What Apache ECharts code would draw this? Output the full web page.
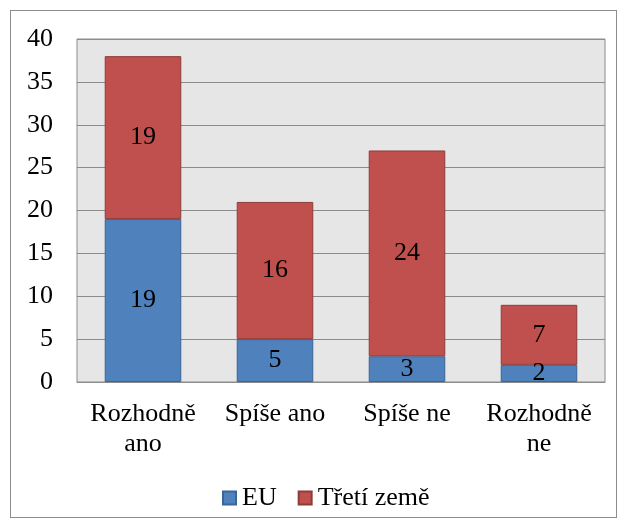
<!DOCTYPE html>
<html>
<head>
<meta charset="utf-8">
<script src="https://cdn.jsdelivr.net/npm/echarts@6/dist/echarts.min.js"></script>
<style>
  html, body { margin: 0; padding: 0; background: #fff; }
  #frame { position: absolute; left: 10px; top: 10px; width: 607px; height: 508px; border: 1px solid #8c8c8c; box-sizing: border-box; }
  #chart { position: absolute; left: 0; top: 0; width: 626px; height: 528px; }
</style>
</head>
<body>
<div id="frame"></div>
<div id="chart"></div>
<script>
const categories = ['Rozhodně\nano', 'Spíše ano', 'Spíše ne', 'Rozhodně\nne'];
const euValues = [19, 5, 3, 2];
const thirdValues = [19, 16, 24, 7];
const seriesNames = ['EU', 'Třetí země'];

const font = '"Times New Roman", "Liberation Serif", Tinos, "DejaVu Serif", serif';
const fontSize = 26;
const chart = echarts.init(document.getElementById('chart'), null, { renderer: 'canvas' });

function barSeries(name, data, color, border) {
  return {
    name: name,
    type: 'bar',
    stack: 'total',
    data: data,
    barCategoryGap: '42%',
    itemStyle: { color: color, borderColor: border, borderWidth: 1 },
    label: {
      show: true,
      position: 'inside',
      color: '#000',
      fontFamily: font,
      fontSize: fontSize
    }
  };
}

chart.setOption({
  animation: false,
  textStyle: { fontFamily: font },
  grid: {
    left: 77, right: 21, top: 39, bottom: 146,
    show: true,
    backgroundColor: '#e6e6e6',
    borderColor: '#8c8c8c',
    borderWidth: 1
  },
  legend: {
    top: 485,
    left: 222,
    padding: 0,
    itemWidth: 13,
    itemHeight: 13,
    itemGap: 21,
    icon: 'rect',
    textStyle: { fontFamily: font, fontSize: fontSize, color: '#000', padding: [0, 0, 0, 1] },
    data: seriesNames
  },
  xAxis: {
    type: 'category',
    data: categories,
    axisLine: { show: true, lineStyle: { color: '#8c8c8c' } },
    axisTick: { show: false },
    axisLabel: {
      color: '#000', fontFamily: font, fontSize: fontSize, margin: 17, lineHeight: 30, interval: 0
    }
  },
  yAxis: {
    type: 'value',
    min: 0, max: 40, interval: 5,
    axisLine: { show: false },
    axisTick: { show: false },
    splitLine: { lineStyle: { color: '#8c8c8c', width: 1 } },
    axisLabel: { color: '#000', fontFamily: font, fontSize: fontSize, margin: 24 }
  },
  series: [
    barSeries(seriesNames[0], euValues, '#4f81bd', '#3a6597'),
    barSeries(seriesNames[1], thirdValues, '#c0504d', '#8f3b39')
  ]
});
</script>
</body>
</html>
